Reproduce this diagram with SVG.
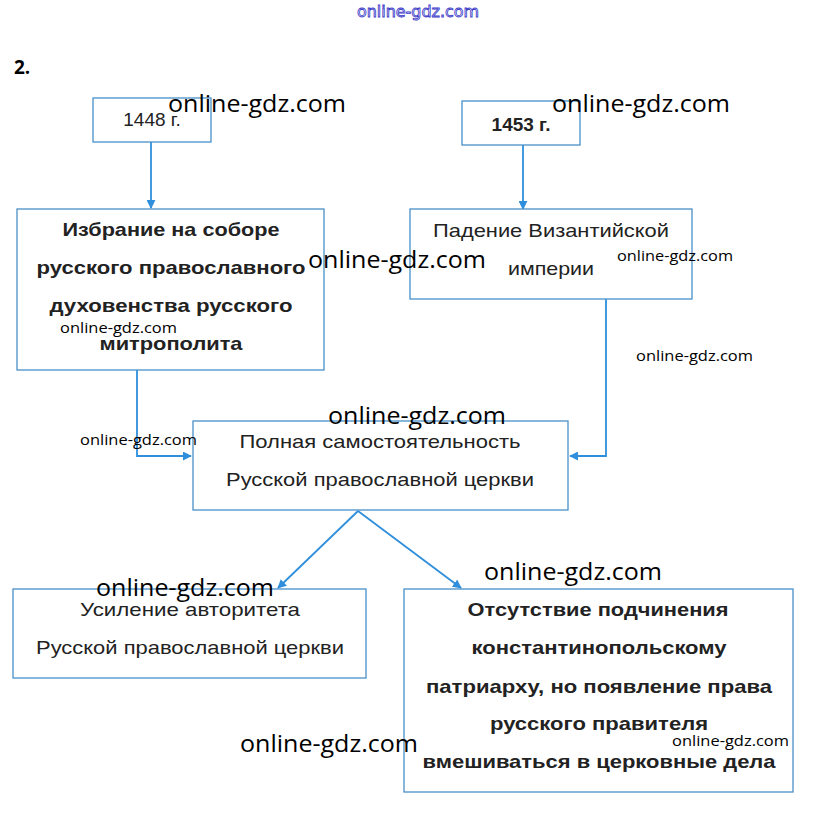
<svg xmlns="http://www.w3.org/2000/svg" width="836" height="830" viewBox="0 0 836 830">
<style>
.box{fill:#fff;stroke:#4a90c8;stroke-width:1.3}
.t{font-family:"Liberation Sans",Arial,sans-serif;font-size:19px;fill:#222;text-anchor:middle}
.b{font-weight:bold}
.c{fill:none;stroke:#2f8fdc;stroke-width:1.8}
.wm{font-family:"Open Sans","Noto Sans",sans-serif;fill:#000}
.wl{font-size:24px}
.ws{font-size:15px}
.top{font-family:"DejaVu Sans","Liberation Sans",sans-serif;font-size:15px;fill:#fff;stroke:#3a3ac8;stroke-width:0.8}
</style>
<defs>
<marker id="ah" viewBox="0 0 10 10" refX="9" refY="5" markerWidth="5" markerHeight="5" orient="auto" markerUnits="strokeWidth">
<path d="M0,0 L10,5 L0,10 z" fill="#2f8fdc"/>
</marker>
</defs>
<rect width="836" height="830" fill="#fff"/>
<text class="top" x="418" y="17" text-anchor="middle" textLength="122" lengthAdjust="spacingAndGlyphs">online-gdz.com</text>
<text x="14" y="74" font-family="Open Sans,sans-serif" font-size="19" font-weight="bold" fill="#000">2.</text>

<g id="connectors">
<line class="c" x1="151" y1="142" x2="151" y2="208" marker-end="url(#ah)"/>
<line class="c" x1="523" y1="145" x2="523" y2="209" marker-end="url(#ah)"/>
<polyline class="c" points="137,370 137,456 191,456" marker-end="url(#ah)"/>
<polyline class="c" points="606,299 606,456 570,456" marker-end="url(#ah)"/>
<line class="c" x1="358" y1="511" x2="278" y2="588" marker-end="url(#ah)"/>
<line class="c" x1="358" y1="511" x2="461" y2="588" marker-end="url(#ah)"/>
</g>

<g id="n1448">
<rect class="box" x="93" y="98" width="118" height="44"/>
<text class="t" x="152" y="126">1448 г.</text>
</g>
<g id="n1453">
<rect class="box" x="462" y="101" width="118" height="44"/>
<text class="t b" x="521" y="131">1453 г.</text>
</g>
<g id="nElect">
<rect class="box" x="17" y="209" width="307" height="161"/>
<text class="t b" x="171" y="236" textLength="217" lengthAdjust="spacingAndGlyphs">Избрание на соборе</text>
<text class="t b" x="171" y="274" textLength="269" lengthAdjust="spacingAndGlyphs">русского православного</text>
<text class="t b" x="171" y="312" textLength="243" lengthAdjust="spacingAndGlyphs">духовенства русского</text>
<text class="t b" x="171" y="350" textLength="143" lengthAdjust="spacingAndGlyphs">митрополита</text>
</g>
<g id="nFall">
<rect class="box" x="410" y="209" width="282" height="90"/>
<text class="t" x="551" y="237" textLength="236" lengthAdjust="spacingAndGlyphs">Падение Византийской</text>
<text class="t" x="551" y="275" textLength="86" lengthAdjust="spacingAndGlyphs">империи</text>
</g>
<g id="nIndep">
<rect class="box" x="193" y="421" width="375" height="89"/>
<text class="t" x="380" y="448" textLength="281" lengthAdjust="spacingAndGlyphs">Полная самостоятельность</text>
<text class="t" x="380" y="486" textLength="308" lengthAdjust="spacingAndGlyphs">Русской православной церкви</text>
</g>
<g id="nAuth">
<rect class="box" x="13" y="589" width="353" height="89"/>
<text class="t" x="190" y="616" textLength="220" lengthAdjust="spacingAndGlyphs">Усиление авторитета</text>
<text class="t" x="190" y="654" textLength="308" lengthAdjust="spacingAndGlyphs">Русской православной церкви</text>
</g>
<g id="nNoSub">
<rect class="box" x="404" y="589" width="389" height="203"/>
<text class="t b" x="598" y="616" textLength="261" lengthAdjust="spacingAndGlyphs">Отсутствие подчинения</text>
<text class="t b" x="599" y="654" textLength="255" lengthAdjust="spacingAndGlyphs">константинопольскому</text>
<text class="t b" x="599" y="693" textLength="346" lengthAdjust="spacingAndGlyphs">патриарху, но появление права</text>
<text class="t b" x="599" y="730" textLength="218" lengthAdjust="spacingAndGlyphs">русского правителя</text>
<text class="t b" x="599" y="768" textLength="353" lengthAdjust="spacingAndGlyphs">вмешиваться в церковные дела</text>
</g>

<g id="watermarks">
<text class="wm wl" x="168" y="112" textLength="178" lengthAdjust="spacingAndGlyphs">online-gdz.com</text>
<text class="wm wl" x="552" y="112" textLength="178" lengthAdjust="spacingAndGlyphs">online-gdz.com</text>
<text class="wm wl" x="308" y="268" textLength="178" lengthAdjust="spacingAndGlyphs">online-gdz.com</text>
<text class="wm wl" x="328" y="424" textLength="178" lengthAdjust="spacingAndGlyphs">online-gdz.com</text>
<text class="wm wl" x="96" y="596" textLength="178" lengthAdjust="spacingAndGlyphs">online-gdz.com</text>
<text class="wm wl" x="484" y="580" textLength="178" lengthAdjust="spacingAndGlyphs">online-gdz.com</text>
<text class="wm wl" x="240" y="752" textLength="178" lengthAdjust="spacingAndGlyphs">online-gdz.com</text>
<text class="wm ws" x="60" y="333" textLength="117" lengthAdjust="spacingAndGlyphs">online-gdz.com</text>
<text class="wm ws" x="617" y="261" textLength="116" lengthAdjust="spacingAndGlyphs">online-gdz.com</text>
<text class="wm ws" x="636" y="361" textLength="117" lengthAdjust="spacingAndGlyphs">online-gdz.com</text>
<text class="wm ws" x="80" y="445" textLength="117" lengthAdjust="spacingAndGlyphs">online-gdz.com</text>
<text class="wm ws" x="672" y="746" textLength="117" lengthAdjust="spacingAndGlyphs">online-gdz.com</text>
</g>
</svg>
